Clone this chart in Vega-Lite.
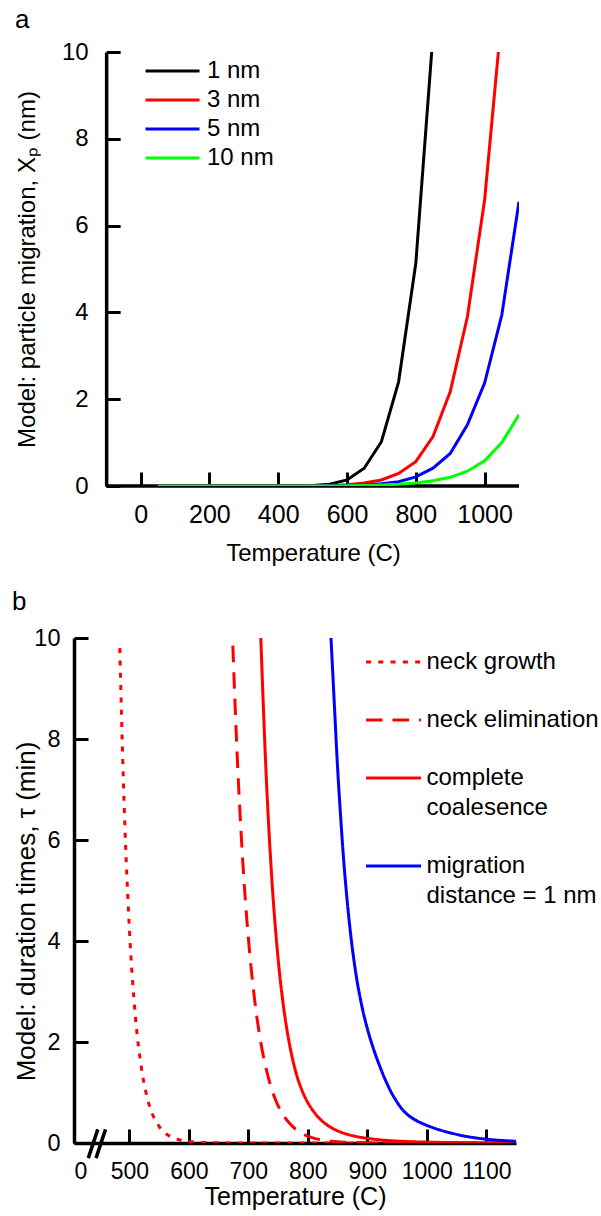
{
  "$schema": "https://vega.github.io/schema/vega-lite/v6.json",
  "background": "white",
  "padding": {"left": 12, "top": 7, "right": 0, "bottom": 0},
  "spacing": 23,
  "resolve": {"scale": {"color": "independent", "strokeDash": "independent"}, "legend": {"color": "independent", "strokeDash": "independent"}},
  "config": {
    "font": "Liberation Sans",
    "view": {"stroke": null},
    "axis": {
      "domainColor": "black", "domainWidth": 3.5, "tickColor": "black", "tickWidth": 3,
      "tickSize": -14, "labelColor": "black", "titleColor": "black", "titleFontWeight": "normal",
      "grid": false, "labelFont": "Liberation Sans", "titleFont": "Liberation Sans", "titleFontSize": 24
    },
    "legend": {"labelFont": "Liberation Sans", "labelColor": "black"},
    "title": {"font": "Liberation Sans", "fontWeight": "normal", "color": "black"}
  },
  "vconcat": [
    {
      "width": 445,
      "height": 434,
      "title": {"text": "a", "anchor": "start", "frame": "bounds", "fontSize": 26, "offset": 7, "dx": 0},
      "layer": [
        {
          "data": {"values": [{}]},
          "mark": {"type": "rule", "strokeWidth": 3.5, "color": "black"},
          "encoding": {"x": {"datum": -100}, "x2": {"datum": 1100}, "y": {"datum": 0}}
        },
        {
          "data": {"values": [
            {"T": 50, "X": 0, "s": "1 nm"}, {"T": 100, "X": 0, "s": "1 nm"}, {"T": 150, "X": 0, "s": "1 nm"}, {"T": 200, "X": 0, "s": "1 nm"}, {"T": 250, "X": 0, "s": "1 nm"}, {"T": 300, "X": 0, "s": "1 nm"}, {"T": 350, "X": 0, "s": "1 nm"}, {"T": 400, "X": 0.001, "s": "1 nm"}, {"T": 450, "X": 0.003, "s": "1 nm"}, {"T": 500, "X": 0.012, "s": "1 nm"}, {"T": 550, "X": 0.042, "s": "1 nm"}, {"T": 600, "X": 0.14, "s": "1 nm"}, {"T": 650, "X": 0.41, "s": "1 nm"}, {"T": 700, "X": 1.02, "s": "1 nm"}, {"T": 750, "X": 2.4, "s": "1 nm"}, {"T": 800, "X": 5.13, "s": "1 nm"}, {"T": 850, "X": 10.4, "s": "1 nm"},
            {"T": 50, "X": 0, "s": "3 nm"}, {"T": 100, "X": 0, "s": "3 nm"}, {"T": 150, "X": 0, "s": "3 nm"}, {"T": 200, "X": 0, "s": "3 nm"}, {"T": 250, "X": 0, "s": "3 nm"}, {"T": 300, "X": 0, "s": "3 nm"}, {"T": 350, "X": 0, "s": "3 nm"}, {"T": 400, "X": 0, "s": "3 nm"}, {"T": 450, "X": 0.001, "s": "3 nm"}, {"T": 500, "X": 0.003, "s": "3 nm"}, {"T": 550, "X": 0.012, "s": "3 nm"}, {"T": 600, "X": 0.03, "s": "3 nm"}, {"T": 650, "X": 0.068, "s": "3 nm"}, {"T": 700, "X": 0.14, "s": "3 nm"}, {"T": 750, "X": 0.29, "s": "3 nm"}, {"T": 800, "X": 0.56, "s": "3 nm"}, {"T": 850, "X": 1.14, "s": "3 nm"}, {"T": 900, "X": 2.17, "s": "3 nm"}, {"T": 950, "X": 3.9, "s": "3 nm"}, {"T": 1000, "X": 6.59, "s": "3 nm"}, {"T": 1050, "X": 10.85, "s": "3 nm"},
            {"T": 50, "X": 0, "s": "5 nm"}, {"T": 100, "X": 0, "s": "5 nm"}, {"T": 150, "X": 0, "s": "5 nm"}, {"T": 200, "X": 0, "s": "5 nm"}, {"T": 250, "X": 0, "s": "5 nm"}, {"T": 300, "X": 0, "s": "5 nm"}, {"T": 350, "X": 0, "s": "5 nm"}, {"T": 400, "X": 0, "s": "5 nm"}, {"T": 450, "X": 0, "s": "5 nm"}, {"T": 500, "X": 0.002, "s": "5 nm"}, {"T": 550, "X": 0.005, "s": "5 nm"}, {"T": 600, "X": 0.012, "s": "5 nm"}, {"T": 650, "X": 0.025, "s": "5 nm"}, {"T": 700, "X": 0.05, "s": "5 nm"}, {"T": 750, "X": 0.1, "s": "5 nm"}, {"T": 800, "X": 0.21, "s": "5 nm"}, {"T": 850, "X": 0.41, "s": "5 nm"}, {"T": 900, "X": 0.75, "s": "5 nm"}, {"T": 950, "X": 1.41, "s": "5 nm"}, {"T": 1000, "X": 2.37, "s": "5 nm"}, {"T": 1050, "X": 3.94, "s": "5 nm"}, {"T": 1100, "X": 6.55, "s": "5 nm"},
            {"T": 50, "X": 0, "s": "10 nm"}, {"T": 100, "X": 0, "s": "10 nm"}, {"T": 150, "X": 0, "s": "10 nm"}, {"T": 200, "X": 0, "s": "10 nm"}, {"T": 250, "X": 0, "s": "10 nm"}, {"T": 300, "X": 0, "s": "10 nm"}, {"T": 350, "X": 0, "s": "10 nm"}, {"T": 400, "X": 0, "s": "10 nm"}, {"T": 450, "X": 0, "s": "10 nm"}, {"T": 500, "X": 0, "s": "10 nm"}, {"T": 550, "X": 0.002, "s": "10 nm"}, {"T": 600, "X": 0.006, "s": "10 nm"}, {"T": 650, "X": 0.012, "s": "10 nm"}, {"T": 700, "X": 0.022, "s": "10 nm"}, {"T": 750, "X": 0.04, "s": "10 nm"}, {"T": 800, "X": 0.07, "s": "10 nm"}, {"T": 850, "X": 0.12, "s": "10 nm"}, {"T": 900, "X": 0.2, "s": "10 nm"}, {"T": 950, "X": 0.34, "s": "10 nm"}, {"T": 1000, "X": 0.58, "s": "10 nm"}, {"T": 1050, "X": 1.0, "s": "10 nm"}, {"T": 1100, "X": 1.64, "s": "10 nm"}
          ]},
          "mark": {"type": "line", "strokeWidth": 3, "clip": true},
          "encoding": {
            "x": {"field": "T", "type": "quantitative",
              "scale": {"domain": [-193.6, 1100], "nice": false, "zero": false},
              "axis": {"values": [0, 200, 400, 600, 800, 1000], "format": "d", "domain": false, "title": "Temperature (C)", "titleX": 239, "labelFontSize": 25, "labelPadding": 30, "titlePadding": 14.5}},
            "y": {"field": "X", "type": "quantitative",
              "scale": {"domain": [0, 10], "nice": false},
              "axis": {"values": [0, 2, 4, 6, 8, 10], "offset": -32.15, "title": "Model: particle migration, Xₚ (nm)", "titleX": -67.15, "labelFontSize": 24, "labelPadding": 32}},
            "color": {"field": "s", "type": "nominal",
              "scale": {"domain": ["1 nm", "3 nm", "5 nm", "10 nm"], "range": ["#000000", "#ff0000", "#0000ff", "#00ff00"]},
              "legend": {"orient": "none", "legendX": 70, "legendY": 4.5, "title": null, "padding": 0,
                "symbolType": "stroke", "symbolSize": 2916, "symbolStrokeWidth": 3,
                "labelFontSize": 24, "labelOffset": 6, "rowPadding": 0, "clipHeight": 29}}
          }
        }
      ]
    },
    {
      "width": 442,
      "height": 505,
      "title": {"text": "b", "anchor": "start", "frame": "bounds", "fontSize": 26, "offset": 11, "dx": -1},
      "layer": [
        {
          "data": {"values": [
            {"T": 484, "tau": 9.8, "p": "neck growth"}, {"T": 490, "tau": 7.17, "p": "neck growth"}, {"T": 500, "tau": 4.26, "p": "neck growth"}, {"T": 510, "tau": 2.53, "p": "neck growth"}, {"T": 520, "tau": 1.51, "p": "neck growth"}, {"T": 530, "tau": 0.9, "p": "neck growth"}, {"T": 540, "tau": 0.54, "p": "neck growth"}, {"T": 550, "tau": 0.33, "p": "neck growth"}, {"T": 560, "tau": 0.2, "p": "neck growth"}, {"T": 570, "tau": 0.12, "p": "neck growth"}, {"T": 580, "tau": 0.076, "p": "neck growth"}, {"T": 590, "tau": 0.047, "p": "neck growth"}, {"T": 600, "tau": 0.03, "p": "neck growth"}, {"T": 620, "tau": 0.012, "p": "neck growth"}, {"T": 650, "tau": 0.004, "p": "neck growth"}, {"T": 700, "tau": 0.001, "p": "neck growth"}, {"T": 800, "tau": 0, "p": "neck growth"}, {"T": 900, "tau": 0, "p": "neck growth"}, {"T": 1000, "tau": 0, "p": "neck growth"}, {"T": 1150, "tau": 0, "p": "neck growth"},
            {"T": 674, "tau": 9.85, "p": "neck elimination"}, {"T": 680, "tau": 8.03, "p": "neck elimination"}, {"T": 690, "tau": 5.71, "p": "neck elimination"}, {"T": 700, "tau": 4.07, "p": "neck elimination"}, {"T": 710, "tau": 2.9, "p": "neck elimination"}, {"T": 720, "tau": 2.06, "p": "neck elimination"}, {"T": 730, "tau": 1.47, "p": "neck elimination"}, {"T": 740, "tau": 1.04, "p": "neck elimination"}, {"T": 750, "tau": 0.74, "p": "neck elimination"}, {"T": 760, "tau": 0.53, "p": "neck elimination"}, {"T": 770, "tau": 0.38, "p": "neck elimination"}, {"T": 780, "tau": 0.27, "p": "neck elimination"}, {"T": 790, "tau": 0.19, "p": "neck elimination"}, {"T": 800, "tau": 0.136, "p": "neck elimination"}, {"T": 810, "tau": 0.097, "p": "neck elimination"}, {"T": 820, "tau": 0.069, "p": "neck elimination"}, {"T": 840, "tau": 0.035, "p": "neck elimination"}, {"T": 860, "tau": 0.017, "p": "neck elimination"}, {"T": 900, "tau": 0.005, "p": "neck elimination"}, {"T": 1000, "tau": 0.0005, "p": "neck elimination"}, {"T": 1150, "tau": 0, "p": "neck elimination"},
            {"T": 721, "tau": 10.0, "p": "complete coalesence"}, {"T": 730, "tau": 7.3, "p": "complete coalesence"}, {"T": 740, "tau": 5.15, "p": "complete coalesence"}, {"T": 750, "tau": 3.66, "p": "complete coalesence"}, {"T": 760, "tau": 2.63, "p": "complete coalesence"}, {"T": 770, "tau": 1.91, "p": "complete coalesence"}, {"T": 780, "tau": 1.4, "p": "complete coalesence"}, {"T": 790, "tau": 1.05, "p": "complete coalesence"}, {"T": 800, "tau": 0.8, "p": "complete coalesence"}, {"T": 810, "tau": 0.62, "p": "complete coalesence"}, {"T": 820, "tau": 0.48, "p": "complete coalesence"}, {"T": 830, "tau": 0.378, "p": "complete coalesence"}, {"T": 840, "tau": 0.3, "p": "complete coalesence"}, {"T": 850, "tau": 0.241, "p": "complete coalesence"}, {"T": 860, "tau": 0.195, "p": "complete coalesence"}, {"T": 870, "tau": 0.16, "p": "complete coalesence"}, {"T": 880, "tau": 0.132, "p": "complete coalesence"}, {"T": 890, "tau": 0.11, "p": "complete coalesence"}, {"T": 900, "tau": 0.092, "p": "complete coalesence"}, {"T": 920, "tau": 0.064, "p": "complete coalesence"}, {"T": 940, "tau": 0.045, "p": "complete coalesence"}, {"T": 960, "tau": 0.032, "p": "complete coalesence"}, {"T": 980, "tau": 0.023, "p": "complete coalesence"}, {"T": 1000, "tau": 0.017, "p": "complete coalesence"}, {"T": 1050, "tau": 0.008, "p": "complete coalesence"}, {"T": 1100, "tau": 0.004, "p": "complete coalesence"}, {"T": 1150, "tau": 0.002, "p": "complete coalesence"},
            {"T": 839, "tau": 10.0, "p": "migration distance = 1 nm"}, {"T": 845, "tau": 8.6, "p": "migration distance = 1 nm"}, {"T": 850, "tau": 7.45, "p": "migration distance = 1 nm"}, {"T": 855, "tau": 6.5, "p": "migration distance = 1 nm"}, {"T": 860, "tau": 5.65, "p": "migration distance = 1 nm"}, {"T": 865, "tau": 4.95, "p": "migration distance = 1 nm"}, {"T": 870, "tau": 4.35, "p": "migration distance = 1 nm"}, {"T": 880, "tau": 3.42, "p": "migration distance = 1 nm"}, {"T": 890, "tau": 2.76, "p": "migration distance = 1 nm"}, {"T": 900, "tau": 2.27, "p": "migration distance = 1 nm"}, {"T": 910, "tau": 1.88, "p": "migration distance = 1 nm"}, {"T": 920, "tau": 1.55, "p": "migration distance = 1 nm"}, {"T": 930, "tau": 1.26, "p": "migration distance = 1 nm"}, {"T": 940, "tau": 1.01, "p": "migration distance = 1 nm"}, {"T": 950, "tau": 0.81, "p": "migration distance = 1 nm"}, {"T": 960, "tau": 0.65, "p": "migration distance = 1 nm"}, {"T": 970, "tau": 0.54, "p": "migration distance = 1 nm"}, {"T": 980, "tau": 0.46, "p": "migration distance = 1 nm"}, {"T": 990, "tau": 0.4, "p": "migration distance = 1 nm"}, {"T": 1000, "tau": 0.35, "p": "migration distance = 1 nm"}, {"T": 1020, "tau": 0.265, "p": "migration distance = 1 nm"}, {"T": 1040, "tau": 0.2, "p": "migration distance = 1 nm"}, {"T": 1060, "tau": 0.145, "p": "migration distance = 1 nm"}, {"T": 1080, "tau": 0.105, "p": "migration distance = 1 nm"}, {"T": 1100, "tau": 0.075, "p": "migration distance = 1 nm"}, {"T": 1120, "tau": 0.055, "p": "migration distance = 1 nm"}, {"T": 1150, "tau": 0.035, "p": "migration distance = 1 nm"}
          ]},
          "mark": {"type": "line", "strokeWidth": 3, "clip": true, "interpolate": "monotone"},
          "encoding": {
            "x": {"field": "T", "type": "quantitative",
              "scale": {"domain": [407, 1150], "nice": false, "zero": false},
              "axis": {"values": [407, 500, 600, 700, 800, 900, 1000, 1100], "format": "d", "labelExpr": "datum.value < 450 ? '0' : datum.label", "title": "Temperature (C)", "labelFontSize": 23, "labelPadding": 31.5, "titlePadding": 1, "titleFontSize": 25}},
            "y": {"field": "tau", "type": "quantitative",
              "scale": {"domain": [0, 10], "nice": false},
              "axis": {"values": [0, 2, 4, 6, 8, 10], "title": "Model: duration times, τ (min)", "titleFontSize": 26, "titleX": -35, "titleY": 273, "labelFontSize": 23.5, "labelPadding": 28}},
            "color": {"field": "p", "type": "nominal",
              "scale": {"domain": ["neck growth", "neck elimination", "complete coalesence", "migration distance = 1 nm"], "range": ["#ff0000", "#ff0000", "#ff0000", "#0000ff"]},
              "legend": {"orient": "none", "legendX": 290.5, "legendY": -5, "title": null, "padding": 0,
                "symbolType": "stroke", "symbolSize": 3025, "symbolStrokeWidth": 3,
                "labelFontSize": 24, "labelOffset": 4, "rowPadding": 17, "labelLimit": 300,
                "labelExpr": "datum.label == 'complete coalesence' ? ['complete', 'coalesence'] : datum.label == 'migration distance = 1 nm' ? ['migration', 'distance = 1 nm'] : datum.label",
                "encode": {"labels": {"update": {"lineHeight": {"value": 29.5}}}}}},
            "strokeDash": {"field": "p", "type": "nominal",
              "scale": {"domain": ["neck growth", "neck elimination", "complete coalesence", "migration distance = 1 nm"], "range": [[5, 7.3], [16.5, 10], [1, 0], [1, 0]]},
              "legend": {"orient": "none", "legendX": 290.5, "legendY": -5, "title": null, "padding": 0,
                "symbolType": "stroke", "symbolSize": 3025, "symbolStrokeWidth": 3,
                "labelFontSize": 24, "labelOffset": 4, "rowPadding": 17, "labelLimit": 300,
                "labelExpr": "datum.label == 'complete coalesence' ? ['complete', 'coalesence'] : datum.label == 'migration distance = 1 nm' ? ['migration', 'distance = 1 nm'] : datum.label",
                "encode": {"labels": {"update": {"lineHeight": {"value": 29.5}}}}}}
          }
        },
        {
          "data": {"values": [{}]},
          "mark": {"type": "rule", "strokeWidth": 3.5, "color": "black", "clip": false},
          "encoding": {"x": {"datum": 431}, "x2": {"datum": 447}, "y": {"datum": -0.3}, "y2": {"datum": 0.27}}
        },
        {
          "data": {"values": [{}]},
          "mark": {"type": "rule", "strokeWidth": 3.5, "color": "black", "clip": false},
          "encoding": {"x": {"datum": 444}, "x2": {"datum": 460}, "y": {"datum": -0.3}, "y2": {"datum": 0.27}}
        }
      ]
    }
  ]
}
